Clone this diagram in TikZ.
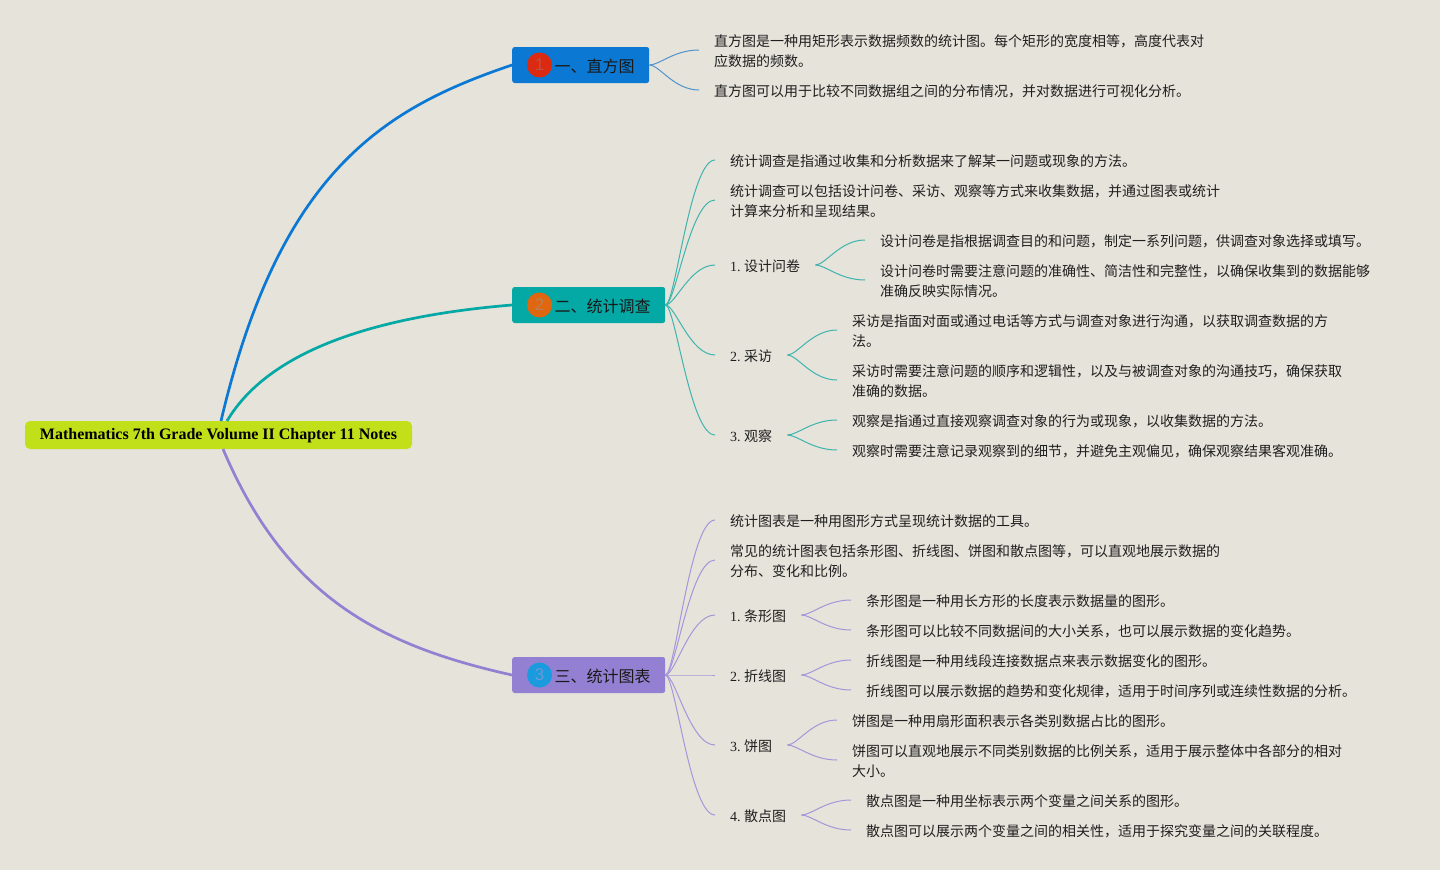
\documentclass[tikz,border=0pt]{standalone}
\usepackage{fontspec}
\setmainfont{Liberation Serif}
\newfontfamily\cjk{Noto Sans CJK SC}
\newfontfamily\digitfont{Liberation Sans}
\frenchspacing
\definecolor{bgc}{HTML}{E6E3DB}
\definecolor{rootc}{HTML}{C2E01A}
\definecolor{bluec}{HTML}{0B78D3}
\definecolor{tealc}{HTML}{04A8A4}
\definecolor{purpc}{HTML}{9480D2}
\definecolor{bluel}{HTML}{4F93CC}
\definecolor{teall}{HTML}{3DB4AE}
\definecolor{purpl}{HTML}{A595DA}
\definecolor{redb}{HTML}{DC2A10}
\definecolor{oranb}{HTML}{E0660F}
\definecolor{cyanb}{HTML}{1A9BDD}
\definecolor{redd}{HTML}{BC5048}
\definecolor{orand}{HTML}{BE8050}
\definecolor{cyand}{HTML}{6A9AD8}
\tikzset{
  txt/.style={anchor=west,align=left,inner xsep=15pt,inner ysep=0pt,text=black!88,yshift=-0.3pt,
    font=\fontsize{14}{20}\selectfont\cjk},
  lab/.style={anchor=west,inner xsep=15pt,inner ysep=0pt,text=black!88,
    font=\fontsize{14}{20}\selectfont},
  branch/.style={rounded corners=2.5pt,inner sep=0pt,minimum height=36pt,anchor=west,text=black!90,
    font=\fontsize{16}{20}\selectfont\cjk,align=left},
  badge/.style={circle,inner sep=0pt,minimum size=25pt,font=\fontsize{17}{17}\selectfont\digitfont},
  main/.style={line width=2.7pt},
  sub/.style={line width=1pt},
}
% branch to text node, branch to label node, label node to text node
\newcommand{\connA}[3]{\draw[sub,#1] (#2.east) .. controls +(10,0) and +(-25,0) .. ([yshift=1.3pt]#3.west);}
\newcommand{\connB}[3]{\draw[sub,#1] (#2.east) .. controls +(10,0) and +(-25,0) .. ([yshift=1pt]#3.west);}
\newcommand{\connC}[3]{\draw[sub,#1] ([yshift=1pt]#2.east) .. controls +(10,0) and +(-25,0) .. ([yshift=1.3pt]#3.west);}
\begin{document}
\begin{tikzpicture}[x=1pt,y=-1pt]
\useasboundingbox (0,0) rectangle (1440,870);
\fill[bgc] (0,0) rectangle (1440,870);
% root and branches
\node[fill=rootc,rounded corners=5pt,minimum width=387pt,minimum height=28pt,inner sep=0pt,text=black,
  text height=13pt,text depth=3.5pt,
  font=\fontsize{16}{20}\selectfont\bfseries] (root) at (218.5,435) {Mathematics 7th Grade Volume II Chapter 11 Notes};
\coordinate (rb) at (221,421);
\coordinate (rt) at (227,421);
\coordinate (rp) at (223,449);
\node[branch,fill=bluec,minimum width=137pt] (b1) at (512,65) {};
\node[branch,fill=tealc,minimum width=153pt] (b2) at (512,305) {};
\node[branch,fill=purpc,minimum width=153pt] (b3) at (512,675) {};
\node[branch,minimum height=0pt] (t1) at (554.3,66) {一、直方图};
\node[branch,minimum height=0pt] (t2) at (554.3,306) {二、统计调查};
\node[branch,minimum height=0pt] (t3) at (554.3,676) {三、统计图表};
\node[badge,fill=redb,text=redd] (n1) at (539.5,65) {1};
\node[badge,fill=oranb,text=orand] (n2) at (539.5,305) {2};
\node[badge,fill=cyanb,text=cyand] (n3) at (539.5,675) {3};
\draw[main,bluec] (rb) .. controls (280,170) and (385,108) .. (b1.west);
\draw[main,tealc] (rt) .. controls (272,345) and (390,315) .. (b2.west);
\draw[main,purpc] (rp) .. controls (285,595) and (377,645) .. (b3.west);
% branch 1
\node[txt] (a1) at (699,51) {直方图是一种用矩形表示数据频数的统计图。每个矩形的宽度相等，高度代表对\\应数据的频数。};
\node[txt] (a2) at (699,91) {直方图可以用于比较不同数据组之间的分布情况，并对数据进行可视化分析。};
\connA{bluel}{b1}{a1}
\connA{bluel}{b1}{a2}
% branch 2
\node[txt] (c1) at (715,161) {统计调查是指通过收集和分析数据来了解某一问题或现象的方法。};
\node[txt] (c2) at (715,201) {统计调查可以包括设计问卷、采访、观察等方式来收集数据，并通过图表或统计\\计算来分析和呈现结果。};
\node[lab] (c3) at (715,266) {1. {\cjk 设计问卷}};
\node[lab] (c4) at (715,356) {2. {\cjk 采访}};
\node[lab] (c5) at (715,436) {3. {\cjk 观察}};
\node[txt] (d1) at (865,241) {设计问卷是指根据调查目的和问题，制定一系列问题，供调查对象选择或填写。};
\node[txt] (d2) at (865,281) {设计问卷时需要注意问题的准确性、简洁性和完整性，以确保收集到的数据能够\\准确反映实际情况。};
\node[txt] (d3) at (837,331) {采访是指面对面或通过电话等方式与调查对象进行沟通，以获取调查数据的方\\法。};
\node[txt] (d4) at (837,381) {采访时需要注意问题的顺序和逻辑性，以及与被调查对象的沟通技巧，确保获取\\准确的数据。};
\node[txt] (d5) at (837,421) {观察是指通过直接观察调查对象的行为或现象，以收集数据的方法。};
\node[txt] (d6) at (837,451) {观察时需要注意记录观察到的细节，并避免主观偏见，确保观察结果客观准确。};
\connA{teall}{b2}{c1}
\connA{teall}{b2}{c2}
\connB{teall}{b2}{c3}
\connB{teall}{b2}{c4}
\connB{teall}{b2}{c5}
\connC{teall}{c3}{d1}
\connC{teall}{c3}{d2}
\connC{teall}{c4}{d3}
\connC{teall}{c4}{d4}
\connC{teall}{c5}{d5}
\connC{teall}{c5}{d6}
% branch 3
\node[txt] (e1) at (715,521) {统计图表是一种用图形方式呈现统计数据的工具。};
\node[txt] (e2) at (715,561) {常见的统计图表包括条形图、折线图、饼图和散点图等，可以直观地展示数据的\\分布、变化和比例。};
\node[lab] (e3) at (715,616) {1. {\cjk 条形图}};
\node[lab] (e4) at (715,676) {2. {\cjk 折线图}};
\node[lab] (e5) at (715,746) {3. {\cjk 饼图}};
\node[lab] (e6) at (715,816) {4. {\cjk 散点图}};
\node[txt] (f1) at (851,601) {条形图是一种用长方形的长度表示数据量的图形。};
\node[txt] (f2) at (851,631) {条形图可以比较不同数据间的大小关系，也可以展示数据的变化趋势。};
\node[txt] (f3) at (851,661) {折线图是一种用线段连接数据点来表示数据变化的图形。};
\node[txt] (f4) at (851,691) {折线图可以展示数据的趋势和变化规律，适用于时间序列或连续性数据的分析。};
\node[txt] (f5) at (837,721) {饼图是一种用扇形面积表示各类别数据占比的图形。};
\node[txt] (f6) at (837,761) {饼图可以直观地展示不同类别数据的比例关系，适用于展示整体中各部分的相对\\大小。};
\node[txt] (f7) at (851,801) {散点图是一种用坐标表示两个变量之间关系的图形。};
\node[txt] (f8) at (851,831) {散点图可以展示两个变量之间的相关性，适用于探究变量之间的关联程度。};
\connA{purpl}{b3}{e1}
\connA{purpl}{b3}{e2}
\connB{purpl}{b3}{e3}
\connB{purpl}{b3}{e4}
\connB{purpl}{b3}{e5}
\connB{purpl}{b3}{e6}
\connC{purpl}{e3}{f1}
\connC{purpl}{e3}{f2}
\connC{purpl}{e4}{f3}
\connC{purpl}{e4}{f4}
\connC{purpl}{e5}{f5}
\connC{purpl}{e5}{f6}
\connC{purpl}{e6}{f7}
\connC{purpl}{e6}{f8}
\end{tikzpicture}
\end{document}
